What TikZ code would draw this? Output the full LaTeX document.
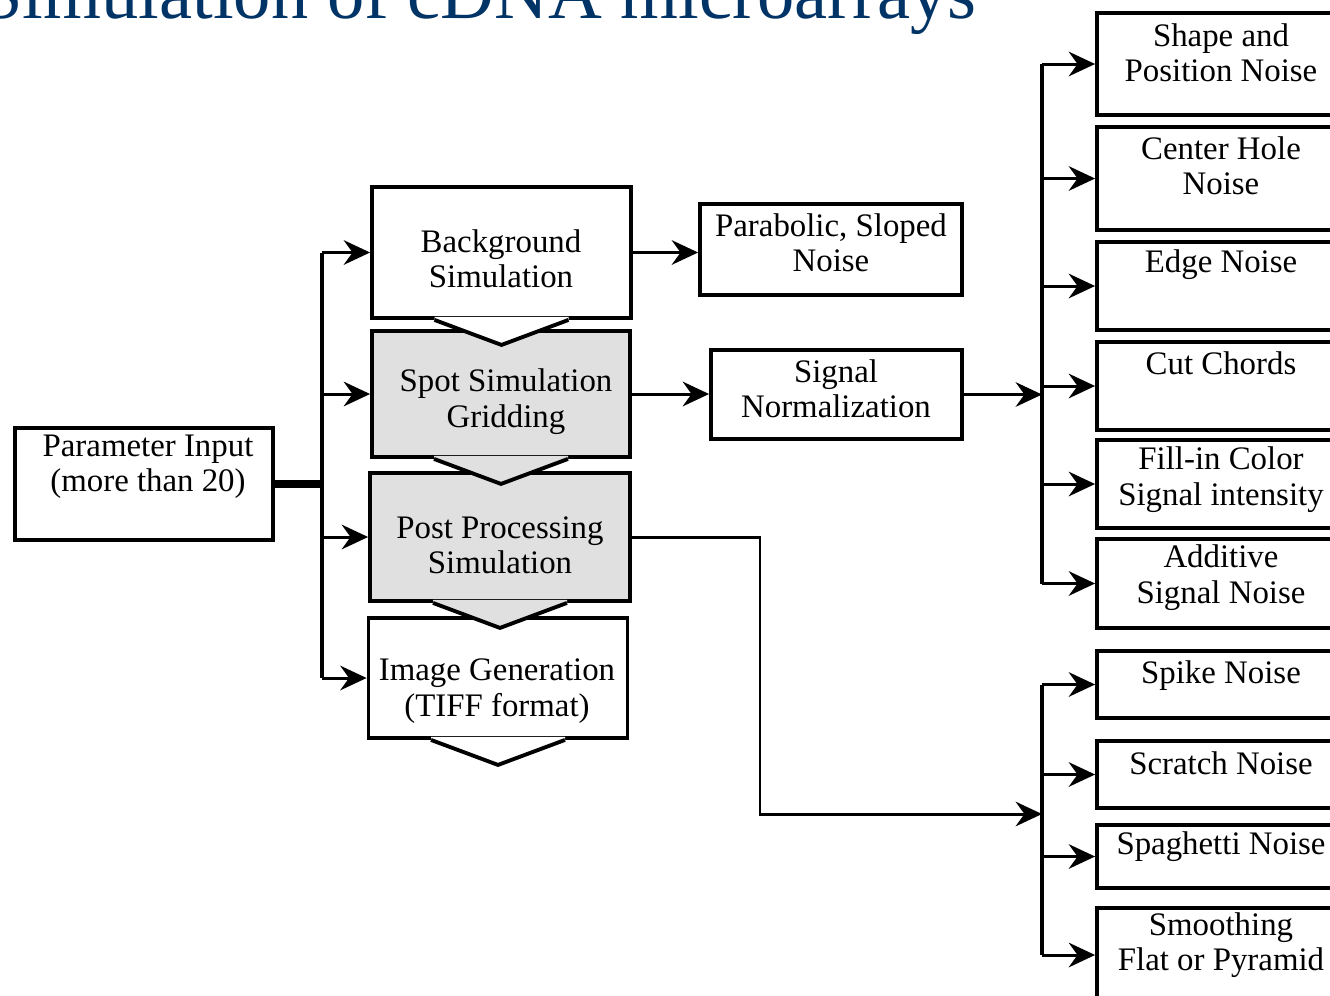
\documentclass[tikz,border=0pt]{standalone}
\usepackage{fontspec}
\setmainfont{Liberation Serif}
\usetikzlibrary{arrows.meta,calc}
\definecolor{matitle}{RGB}{0,51,102}
\definecolor{magray}{RGB}{224,224,224}
\tikzset{
  mabox/.style={draw=black, line width=2.2pt, fill=white, inner sep=0pt},
  maboxgray/.style={mabox, fill=magray},
  maright/.style={mabox, minimum width=4.96cm},
  matext/.style={align=center, inner sep=0pt},
  malink/.style={line width=1.7pt, draw=black},
  maarr/.style={-{Stealth[length=15pt, width=14pt, inset=5pt]}, malink}
}
\newcommand{\machev}[2]{%
  \fill[#2] ($(#1.south)+(-67,-3)$) -- ($(#1.south)+(67,-3)$) -- ($(#1.south)+(67,0)$)
    -- ($(#1.south)+(0,25)$) -- ($(#1.south)+(-67,0)$) -- cycle;
  \draw[line width=2.2pt] ($(#1.south)+(-67,0)$) -- ($(#1.south)+(0,25)$) -- ($(#1.south)+(67,0)$);
}

\begin{document}
\begin{tikzpicture}[x=0.02cm, y=-0.02cm, font=\fontsize{18.7pt}{20.1pt}\selectfont]
  \useasboundingbox (0,0) rectangle (1330,995);
  \clip (0,0) rectangle (1330,995);

  \node[anchor=base west, inner sep=0pt, text=matitle, font=\fontsize{42.4pt}{46pt}\selectfont] (title) at (-19,18) {Simulation of cDNA microarrays};

  \node[mabox, minimum width=5.16cm, minimum height=2.24cm] (param) at (144,484) {};

  \node[mabox, minimum width=5.18cm, minimum height=2.40cm] (img) at (498,678) {};
  \machev{img}{white}
  \node[maboxgray, minimum width=5.20cm, minimum height=2.56cm] (post) at (500,537) {};
  \machev{post}{magray}
  \node[maboxgray, minimum width=5.16cm, minimum height=2.52cm] (spot) at (501,394) {};
  \machev{spot}{magray}
  \node[mabox, minimum width=5.18cm, minimum height=2.62cm] (bg) at (501.5,252.5) {};
  \machev{bg}{white}

  \node[mabox, minimum width=5.24cm, minimum height=1.82cm] (para) at (831,249.5) {};
  \node[mabox, minimum width=5.02cm, minimum height=1.78cm] (sig) at (836.5,394.5) {};

  \node[maright, minimum height=2.04cm] (nshape) at (1221,64) {};
  \node[maright, minimum height=2.06cm] (nhole) at (1221,178.5) {};
  \node[maright, minimum height=1.76cm] (nedge) at (1221,286) {};
  \node[maright, minimum height=1.76cm] (ncut) at (1221,386) {};
  \node[maright, minimum height=1.76cm] (nfill) at (1221,484) {};
  \node[maright, minimum height=1.78cm] (nadd) at (1221,583.5) {};
  \node[maright, minimum height=1.34cm] (nspike) at (1221,684.5) {};
  \node[maright, minimum height=1.34cm] (nscratch) at (1221,774.5) {};
  \node[maright, minimum height=1.26cm] (nspag) at (1221,856.5) {};
  \node[maright, minimum height=1.88cm] (nsmooth) at (1221,955) {};

  \node[matext] (paramtxt) at (148,466.5) {Parameter Input\\(more than 20)};
  \node[matext] (bgtxt) at (501,258.5) {Background\\Simulation};
  \node[matext] (spottxt) at (506,401.5) {Spot Simulation\\Gridding};
  \node[matext] (posttxt) at (500,545) {Post Processing\\Simulation};
  \node[matext] (imgtxt) at (497,691) {Image Generation\\(TIFF format)};
  \node[matext] (paratxt) at (831,243) {Parabolic, Sloped\\Noise};
  \node[matext] (sigtxt) at (836,389) {Signal\\Normalization};
  \node[matext] (shapetxt) at (1221,53) {Shape and\\Position Noise};
  \node[matext] (holetxt) at (1221,165.5) {Center Hole\\Noise};
  \node[matext] (edgetxt) at (1221,265) {Edge Noise};
  \node[matext] (cuttxt) at (1221,363) {Cut Chords};
  \node[matext] (filltxt) at (1221,479.5) {Fill-in Color\\Signal intensity};
  \node[matext] (addtxt) at (1221,577.5) {Additive\\Signal Noise};
  \node[matext] (spiketxt) at (1221,676) {Spike Noise};
  \node[matext] (scratchtxt) at (1221,763) {Scratch Noise};
  \node[matext] (spagtxt) at (1221,847) {Spaghetti Noise};
  \node[matext] (smoothtxt) at (1221,945) {Smoothing\\Flat or Pyramid};

  \coordinate (sp0) at (322,484);
  \coordinate (sp1) at (1042,392);
  \coordinate (bend) at (760,814);
  \coordinate (sp2) at (1042,814);

  \draw[malink, line width=4pt] (param.east) -- (param.east -| sp0);
  \draw[malink, line width=2.4pt] (bg.west -| sp0) -- (img.west -| sp0);
  \foreach \b in {bg,spot,post,img}
    \draw[maarr] (\b.west -| sp0) -- (\b.west);

  \draw[maarr] (bg.east) -- (bg.east -| para.west);
  \draw[maarr] (spot.east) -- (spot.east -| sig.west);

  \draw[maarr] (sig.east) -- (sig.east -| sp1);
  \draw[malink, line width=2.4pt] (nshape.west -| sp1) -- (nadd.west -| sp1);
  \foreach \b in {nshape,nhole,nedge,ncut,nfill,nadd}
    \draw[maarr] (\b.west -| sp1) -- (\b.west);

  \draw[maarr] (post.east) -| (bend) -- (sp2);
  \draw[malink, line width=2.4pt] (nspike.west -| sp2) -- (nsmooth.west -| sp2);
  \foreach \b in {nspike,nscratch,nspag,nsmooth}
    \draw[maarr] (\b.west -| sp2) -- (\b.west);
\end{tikzpicture}
\end{document}
